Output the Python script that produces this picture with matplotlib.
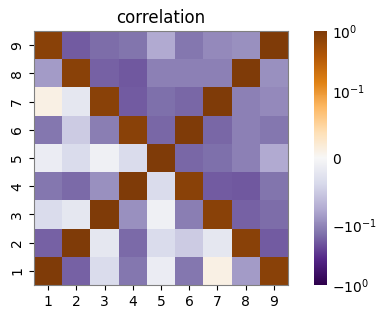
import numpy as np
import matplotlib
matplotlib.use("Agg")
from matplotlib import pyplot as plt
from matplotlib.colors import SymLogNorm

labels = [1, 2, 3, 4, 5, 6, 7, 8, 9]
# upper triangle (row, col) -> correlation
upper = {
    (1, 2): -0.18, (1, 3): -0.035, (1, 4): -0.13, (1, 5): -0.014, (1, 6): -0.13,
    (1, 7): 0.011, (1, 8): -0.087, (1, 9): 0.8,
    (2, 3): -0.022, (2, 4): -0.16, (2, 5): -0.035, (2, 6): -0.05, (2, 7): -0.022,
    (2, 8): 0.8, (2, 9): -0.19,
    (3, 4): -0.094, (3, 5): -0.009, (3, 6): -0.117, (3, 7): 0.8, (3, 8): -0.18,
    (3, 9): -0.155,
    (4, 5): -0.035, (4, 6): 0.8, (4, 7): -0.19, (4, 8): -0.2, (4, 9): -0.138,
    (5, 6): -0.162, (5, 7): -0.145, (5, 8): -0.113, (5, 9): -0.076,
    (6, 7): -0.163, (6, 8): -0.114, (6, 9): -0.13,
    (7, 8): -0.113, (7, 9): -0.098,
    (8, 9): -0.094,
}

n = len(labels)
corr = np.eye(n)
for (i, j), v in upper.items():
    corr[i-1, j-1] = v
    corr[j-1, i-1] = v

fig = plt.figure(figsize=(3.86, 3.19), dpi=100)
ax = fig.add_axes([34/386, 34/319, 254/386, 254/319])
cax = fig.add_axes([314/386, 34/319, 13/386, 254/319])

norm = SymLogNorm(linthresh=0.1, linscale=1, vmin=-1, vmax=1, base=10)
im = ax.pcolormesh(np.arange(n+1)+0.5, np.arange(n+1)+0.5, corr, cmap='PuOr_r', norm=norm)
ax.set_xlim(0.5, n+0.5)
ax.set_ylim(0.5, n+0.5)
ax.set_xticks(labels)
ax.set_yticks(labels)
ax.set_xticklabels(labels)
ax.set_yticklabels(labels, rotation=90, va='center')
for s in ax.spines.values():
    s.set_edgecolor('gray')
ax.set_title('correlation', fontsize=12)

cb = fig.colorbar(im, cax=cax)
cb.outline.set_visible(False)
cb.ax.minorticks_off()
cb.ax.tick_params(length=0)

fig.savefig('out.png', dpi=100)
